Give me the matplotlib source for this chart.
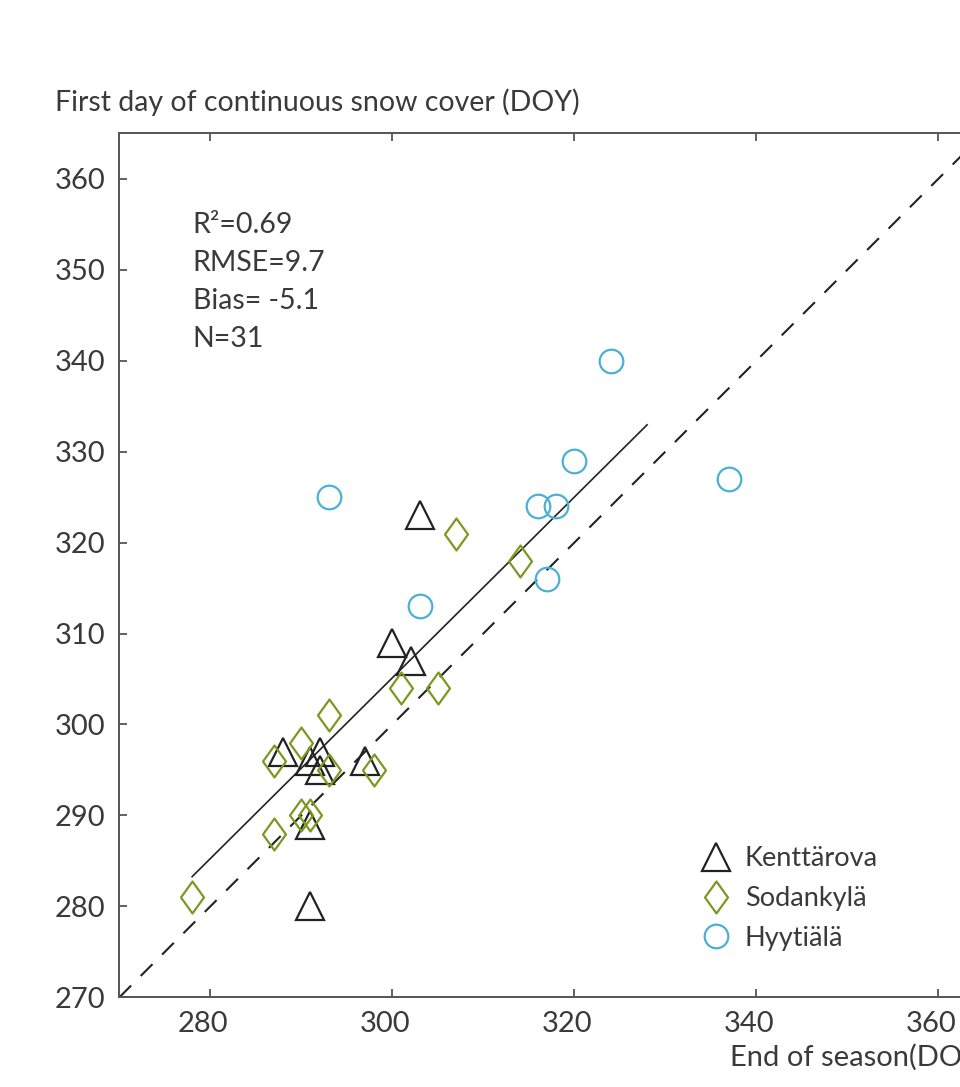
import numpy as np
import matplotlib
matplotlib.use("Agg")
import matplotlib.pyplot as plt
from matplotlib.path import Path
from matplotlib.transforms import ScaledTranslation

plt.rcParams['font.family'] = ['Lato', 'DejaVu Sans']

# Hyytiälä (circles)
hyy_x = [293, 303, 324, 320, 316, 318, 317, 337]
hyy_y = [325, 313, 340, 329, 324, 324, 316, 327]
# Sodankylä (diamonds)
sod_x = [278, 287, 287, 290, 293, 293, 298, 290, 291, 301, 305, 307, 314]
sod_y = [281, 288, 296, 298, 301, 295, 295, 290, 290, 304, 304, 321, 318]
# Kenttärova (triangles)
ken_x = [288, 292, 291, 292, 297, 300, 302, 303, 291, 291]
ken_y = [297, 297, 296, 295, 296, 309, 307, 323, 289, 280]

stats = ["R²=0.69", "RMSE=9.7", "Bias= -5.1", "N=31"]
fit_range = [278, 328]

txt = '#3a3a3a'
green = '#7a9a1f'
blue = '#4bb0d6'
dark = '#222222'

fig = plt.figure(figsize=(9.6, 10.87), dpi=100)
ax = fig.add_axes([0.1243, 0.0825, 0.9005, 0.7948])

# 1:1 line and fit
ax.plot([270, 365], [270, 365], color=dark, lw=1.5, dashes=(8, 6.5))
allx = np.array(hyy_x + sod_x + ken_x, dtype=float)
ally = np.array(hyy_y + sod_y + ken_y, dtype=float)
k, b = np.polyfit(allx, ally, 1)
fx = np.array(fit_range, dtype=float)
ax.plot(fx, k * fx + b, color=dark, lw=1.2)

diamond = Path([(0, 1), (0.72, 0), (0, -1), (-0.72, 0), (0, 1)],
               [Path.MOVETO, Path.LINETO, Path.LINETO, Path.LINETO, Path.CLOSEPOLY])

ax.plot(ken_x, ken_y, '^', ms=20, mfc='none', mec=dark, mew=1.6, ls='none', label='Kenttärova')
ax.plot(sod_x, sod_y, marker=diamond, ms=23, mfc='none', mec=green, mew=1.6, ls='none', label='Sodankylä')
ax.plot(hyy_x, hyy_y, 'o', ms=17, mfc='none', mec=blue, mew=1.6, ls='none', label='Hyytiälä')

ax.set_xlim(270, 365)
ax.set_ylim(270, 365)
ax.set_xticks([280, 300, 320, 340, 360])
ax.set_yticks(np.arange(270, 361, 10))
ax.tick_params(direction='in', length=6, width=1.3, color='#555555',
               labelsize=21, labelcolor=txt, top=True, right=True, pad=10)
for lab in ax.get_xticklabels():
    lab.set_transform(lab.get_transform() + ScaledTranslation(-0.07, 0, fig.dpi_scale_trans))
for sp in ax.spines.values():
    sp.set_color('#555555')
    sp.set_linewidth(1.4)

ax.text(0.085, 0.909, "\n".join(stats), transform=ax.transAxes, fontsize=20.5,
        color=txt, va='top', ha='left', linespacing=1.57)

leg = ax.legend(loc='upper left', bbox_to_anchor=(0.675, 0.175), frameon=False,
                fontsize=19.5, handlelength=1.0, handletextpad=0.55, borderpad=0,
                labelspacing=0.55, borderaxespad=0)
for t in leg.get_texts():
    t.set_color(txt)

fig.text(55 / 960, 1 - 102 / 1087, "First day of continuous snow cover (DOY)",
         fontsize=20.5, color=txt, va='center', ha='left')
fig.text(988 / 960, 1 - 1057 / 1087, "End of season(DOY)",
         fontsize=21, color=txt, va='center', ha='right')

fig.savefig("out.png", dpi=100)
